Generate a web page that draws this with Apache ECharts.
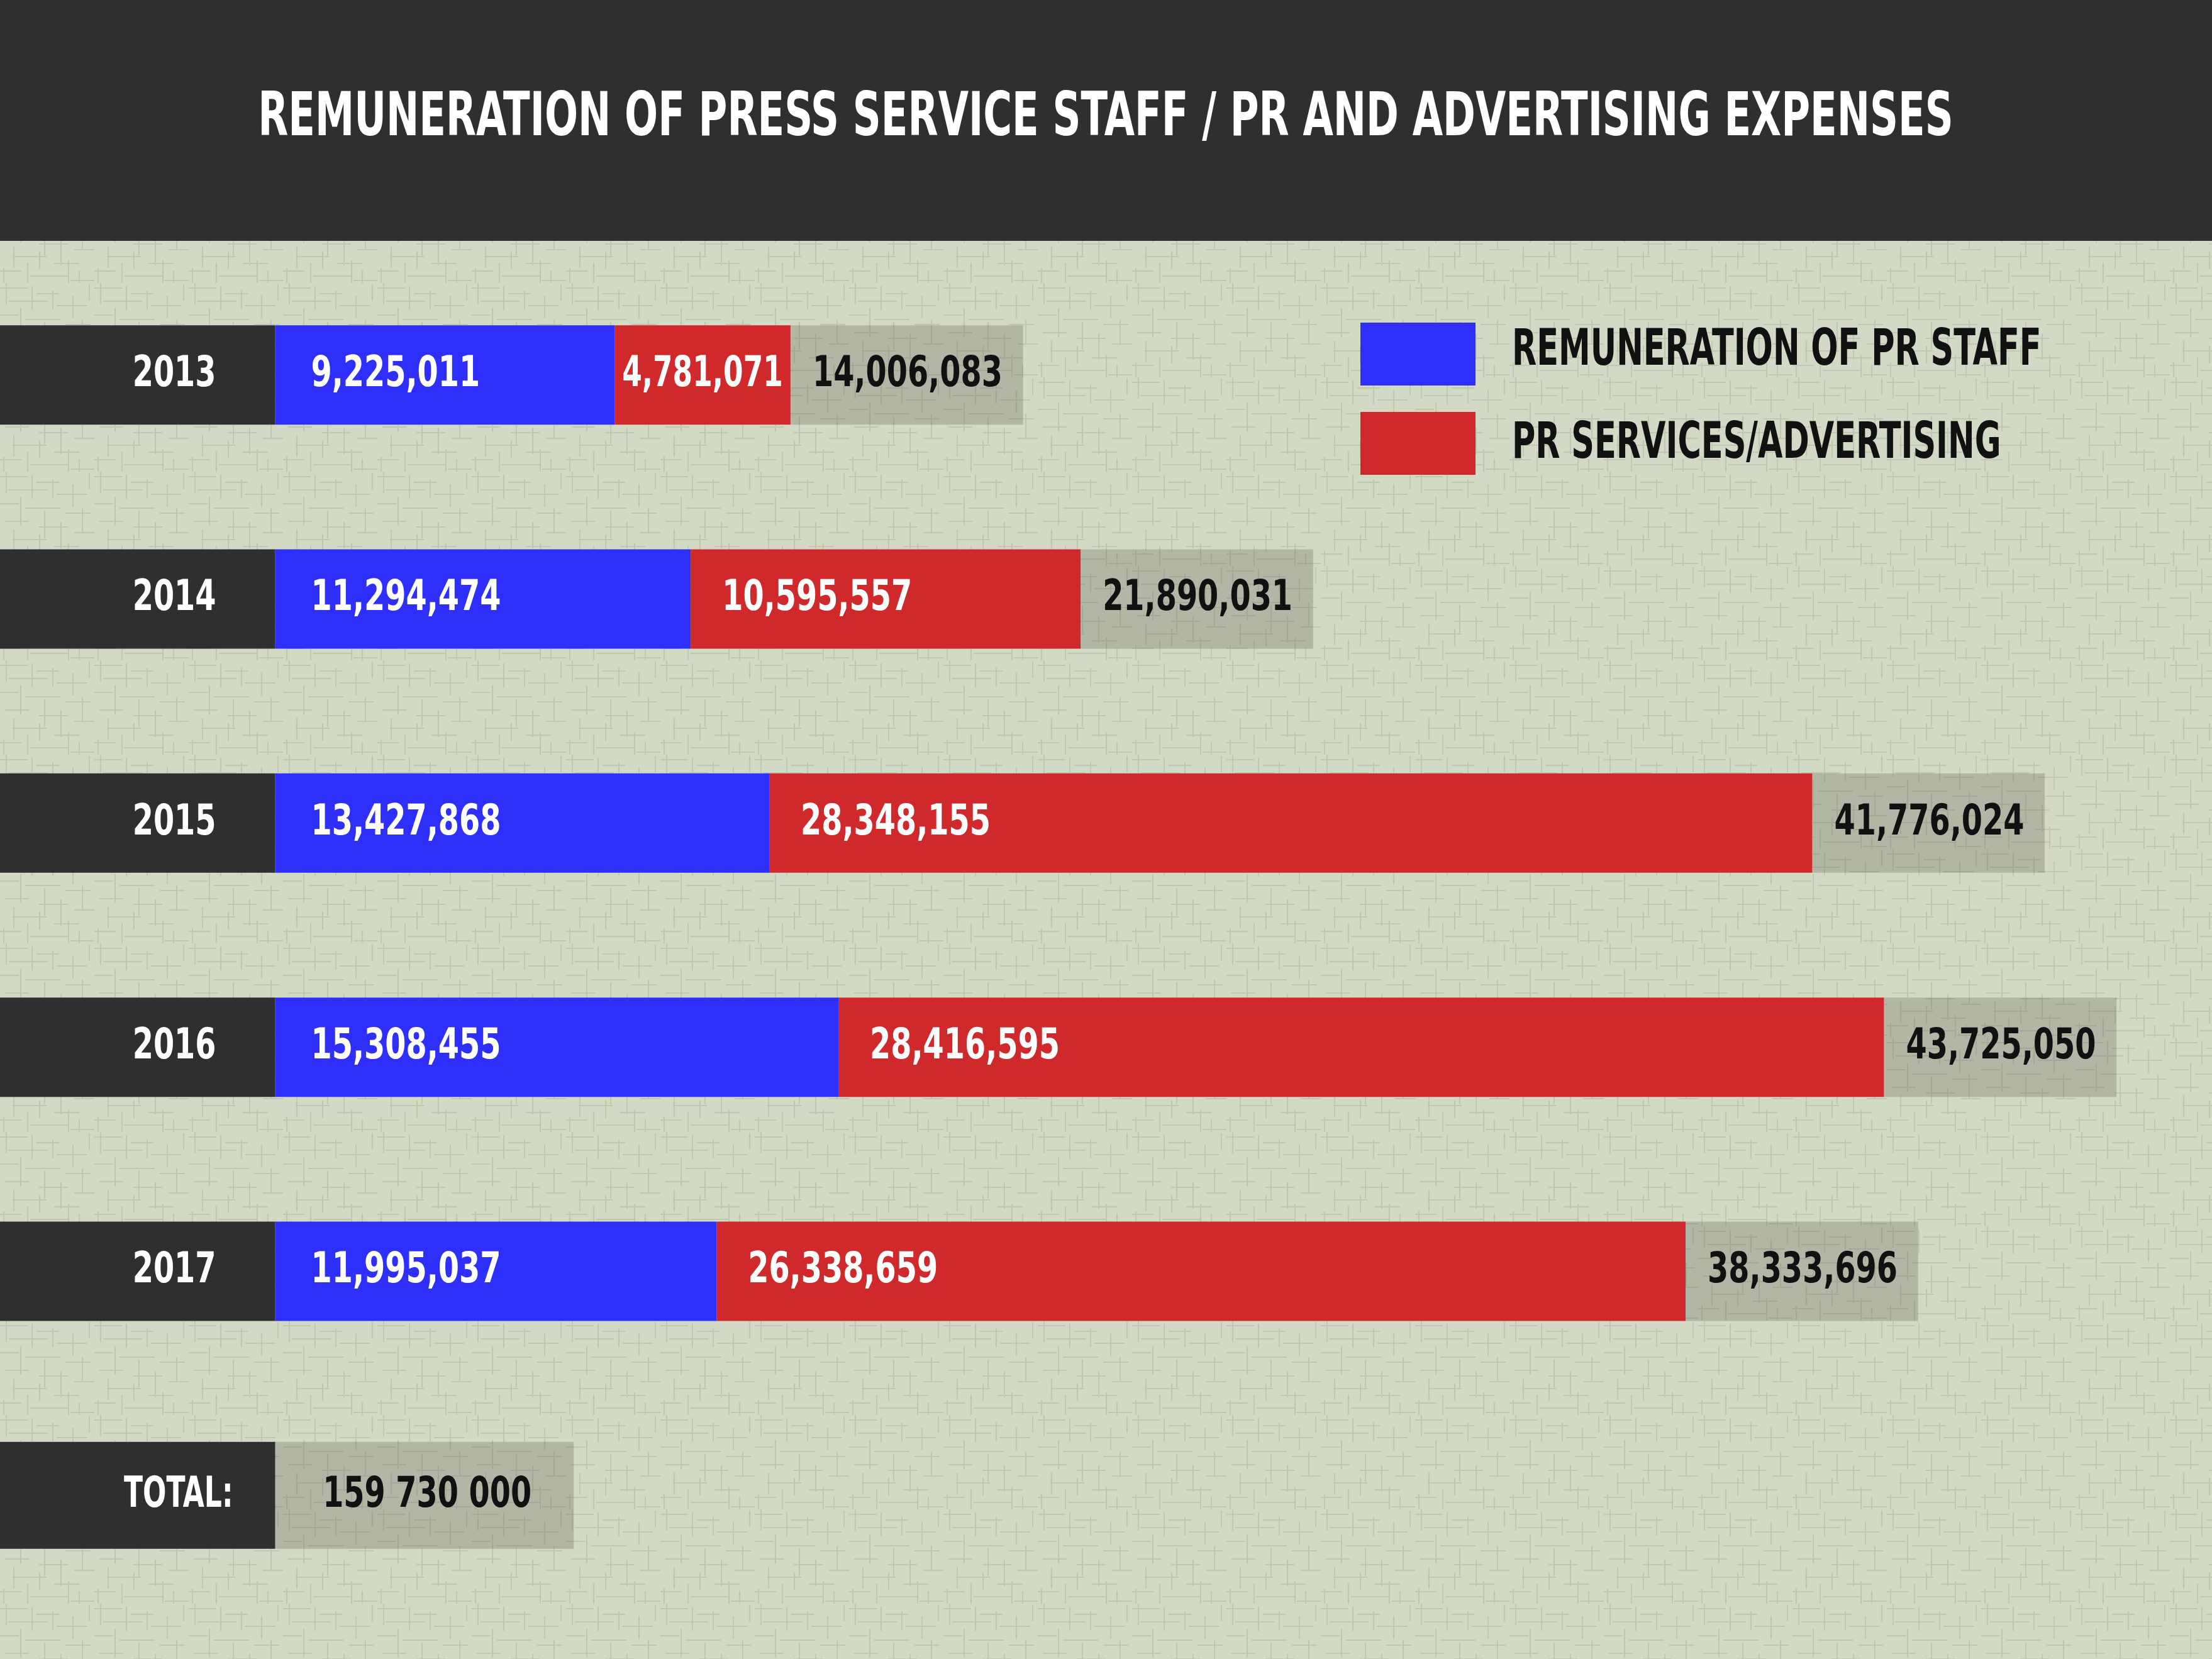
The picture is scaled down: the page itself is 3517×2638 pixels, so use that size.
<!DOCTYPE html>
<html>
<head>
<meta charset="utf-8" />
<title>Remuneration of press service staff</title>
<script src="https://cdn.jsdelivr.net/npm/echarts@6/dist/echarts.min.js"></script>
<style>
  html, body { margin: 0; padding: 0; background: #d0d8c3; }
  #main { width: 3517px; height: 2638px; }
</style>
</head>
<body>
<div id="main"></div>
<script>
var years = ['2013', '2014', '2015', '2016', '2017', 'TOTAL:'];
var staff = [9225011, 11294474, 13427868, 15308455, 11995037, null];
var advertising = [4781071, 10595557, 28348155, 28416595, 26338659, null];
var totals = [14006083, 21890031, 41776024, 43725050, 38333696, null];
var grandTotal = '159 730 000';
var seriesNames = ['REMUNERATION OF PR STAFF', 'PR SERVICES/ADVERTISING'];
var chartTitle = 'REMUNERATION OF PRESS SERVICE STAFF / PR AND ADVERTISING EXPENSES';

// no condensed display face offline, so the condensed look comes from scaleX
var FAMILY = '"DejaVu Sans Condensed", "Liberation Sans", sans-serif';
var LABEL_FONT = 'bold 68px ' + FAMILY;
var SQUEEZE = 0.78;

var measureCtx = document.createElement('canvas').getContext('2d');
function textWidth(t, font) {
  measureCtx.font = font;
  return measureCtx.measureText(t).width;
}

function commas(v) {
  return String(v).replace(/\B(?=(\d{3})+(?!\d))/g, ',');
}

// linen-like background tile: fixed short strokes, low contrast
function linenTile() {
  var c = document.createElement('canvas');
  c.width = 150; c.height = 150;
  var g = c.getContext('2d');
  g.fillStyle = '#d2d9c5';
  g.fillRect(0, 0, 150, 150);
  g.strokeStyle = 'rgba(150,160,128,0.3)';
  g.lineWidth = 2;
  var hs = [[0, 8, 44], [58, 17, 36], [14, 29, 62], [90, 36, 48], [0, 51, 30], [40, 58, 56],
            [104, 66, 40], [8, 79, 38], [62, 88, 46], [118, 97, 32], [20, 108, 54], [86, 119, 40],
            [0, 131, 34], [48, 139, 60], [112, 146, 38]];
  var vs = [[10, 0, 34], [33, 40, 46], [51, 5, 38], [71, 62, 44], [84, 12, 30], [97, 80, 42],
            [116, 20, 36], [131, 58, 40], [142, 2, 26], [22, 92, 34], [44, 118, 32], [63, 100, 28],
            [109, 114, 36], [6, 126, 24], [126, 130, 20]];
  g.beginPath();
  hs.forEach(function (s) { g.moveTo(s[0], s[1]); g.lineTo(s[0] + s[2], s[1]); });
  vs.forEach(function (s) { g.moveTo(s[0], s[1]); g.lineTo(s[0], s[1] + s[2]); });
  g.stroke();
  return c;
}

// value label inside a bar segment; shrink it if the segment is too short
function segLabel(x0, x1, cy, value, dist) {
  var t = commas(value);
  var w = textWidth(t, LABEL_FONT);
  var sx = SQUEEZE;
  var avail = x1 - x0;
  var x = x0 + dist;
  if (w * sx + dist + 12 > avail) {
    sx = Math.min(sx, (avail - 24) / w);
    x = x0 + (avail - w * sx) / 2;
  }
  return { type: 'text', x: x, y: cy, scaleX: sx,
    style: { text: t, fill: '#ffffff', font: LABEL_FONT, align: 'left', verticalAlign: 'middle' } };
}

var rowData = years.map(function (y, i) {
  return [totals[i] == null ? 0 : totals[i], i];
});

function renderRow(params, api) {
  var i = params.dataIndex;
  var isTotal = totals[i] == null;
  var start = api.coord([0, i]);
  var end = api.coord([api.value(0), i]);
  var cy = start[1];
  var h = isTotal ? 170 : 158;
  var children = [
    { type: 'rect', shape: { x: 0, y: cy - h / 2, width: start[0], height: h }, style: { fill: '#2f2f2f' } },
    { type: 'text', x: start[0] - (isTotal ? 67 : 94), y: cy, scaleX: isTotal ? 0.72 : SQUEEZE,
      style: { text: years[i], fill: '#ffffff', font: LABEL_FONT, align: 'right', verticalAlign: 'middle' } }
  ];
  if (!isTotal) {
    var mid = api.coord([staff[i], i]);
    children.push(segLabel(start[0], mid[0], cy, staff[i], 57));
    children.push(segLabel(mid[0], end[0], cy, advertising[i], 50));
  }
  var pad = isTotal ? [55, 86, 55, 97] : [49, 42, 49, 45];
  children.push({ type: 'text', x: end[0], y: cy, scaleX: SQUEEZE,
    style: { text: isTotal ? grandTotal : commas(totals[i]), fill: '#111111', font: LABEL_FONT,
      align: 'left', verticalAlign: 'middle', backgroundColor: 'rgba(80,80,70,0.25)', lineHeight: 60, padding: pad } });
  return { type: 'group', children: children };
}

var chart = echarts.init(document.getElementById('main'));
chart.setOption({
  animation: false,
  backgroundColor: { image: linenTile(), repeat: 'repeat' },
  graphic: [
    { type: 'rect', x: 0, y: 0, shape: { width: 3517, height: 383 }, style: { fill: '#2f2f2f' } },
    { type: 'text', x: 1758, y: 190, scaleX: 0.716,
      style: { text: chartTitle, fill: '#ffffff', font: 'bold 97px ' + FAMILY, align: 'center', verticalAlign: 'middle' } },
    { type: 'text', x: 2404, y: 559, scaleX: 0.708,
      style: { text: seriesNames[0], fill: '#111111', font: 'bold 80px ' + FAMILY, align: 'left', verticalAlign: 'middle' } },
    { type: 'text', x: 2404, y: 707, scaleX: 0.708,
      style: { text: seriesNames[1], fill: '#111111', font: 'bold 80px ' + FAMILY, align: 'left', verticalAlign: 'middle' } }
  ],
  legend: {
    orient: 'vertical',
    left: 2158,
    top: 508,
    itemWidth: 183,
    itemHeight: 100,
    itemGap: 42,
    icon: 'rect',
    selectedMode: false,
    data: seriesNames,
    formatter: function () { return ''; }
  },
  grid: { left: 437.5, right: 37.5, top: 418, bottom: 82 },
  xAxis: { type: 'value', min: 0, max: 52000000, show: false },
  yAxis: { type: 'category', inverse: true, data: years, show: false },
  series: [
    {
      name: seriesNames[0],
      type: 'bar',
      stack: 'total',
      barWidth: 158,
      silent: true,
      itemStyle: { color: '#2f2ffc' },
      data: staff
    },
    {
      name: seriesNames[1],
      type: 'bar',
      stack: 'total',
      barWidth: 158,
      silent: true,
      itemStyle: { color: '#d0292b' },
      data: advertising
    },
    {
      type: 'custom',
      silent: true,
      renderItem: renderRow,
      encode: { x: 0, y: 1 },
      data: rowData,
      z: 3
    }
  ]
});
</script>
</body>
</html>
